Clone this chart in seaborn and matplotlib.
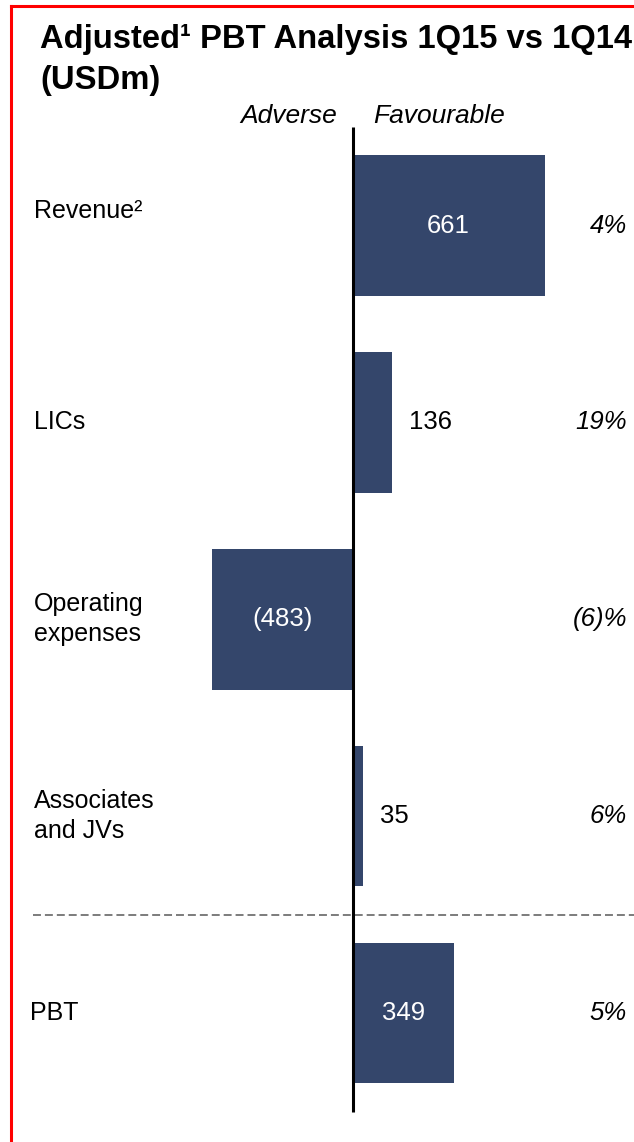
import matplotlib
matplotlib.use("Agg")
import matplotlib.pyplot as plt
from matplotlib.lines import Line2D
import seaborn as sns

# data
categories = ["Revenue²", "LICs", "Operating\nexpenses", "Associates\nand JVs", "PBT"]
values = [661, 136, -483, 35, 349]
pct_change = ["4%", "19%", "(6)%", "6%", "5%"]
title_line1 = "Adjusted¹ PBT Analysis 1Q15 vs 1Q14"
title_line2 = "(USDm)"

W, H = 634, 1142
BAR_COLOR = "#34466b"

# pixel layout of the original slide
ZERO_PX = 352.5          # x of the zero line
PX_PER_USD = 0.2905      # horizontal scale
ROW0_PX = 225.5          # y centre of first bar
ROW_PX = 196.9           # distance between bars


def px_x(px):
    return (px - ZERO_PX) / PX_PER_USD


def px_y(py):
    return (py - ROW0_PX) / ROW_PX


sns.set_style("white")
plt.rcParams["font.family"] = ["Liberation Sans", "DejaVu Sans"]
plt.rcParams["text.color"] = "black"

fig = plt.figure(figsize=(W / 100, H / 100), dpi=100)
ax = fig.add_axes([0, 0, 1, 1])

sns.barplot(x=values, y=categories, orient="h", color=BAR_COLOR, saturation=1,
            width=0.714, edgecolor="none", ax=ax)

ax.set_xlim(px_x(0), px_x(W))
ax.set_ylim(px_y(H), px_y(0))
ax.axis("off")

# zero line and separator before the total
ax.plot([0, 0], [-0.5, 4.5], color="black", lw=2.2, solid_capstyle="butt", zorder=5)
ax.plot([px_x(33), px_x(W + 5)], [3.5, 3.5], color="#595959", lw=1.1,
        ls=(0, (5.2, 2.6)), zorder=1)

for i, (cat, v, pct) in enumerate(zip(categories, values, pct_change)):
    # row label on the left
    lx = px_x(30) if cat == "PBT" else px_x(34)
    dy = -0.075 if i == 0 else 0
    ax.text(lx, i + dy, cat, ha="left", va="center", fontsize=18, linespacing=1.3)

    # value label
    txt = f"({abs(v)})" if v < 0 else f"{v}"
    if abs(v) > 200:
        ax.text(v / 2, i, txt, ha="center", va="center", fontsize=18.5, color="white")
    else:
        ax.text(v + 17 / PX_PER_USD, i, txt, ha="left", va="center", fontsize=18.5,
                color="black")

    # % change on the right
    ax.text(px_x(627), i, pct, ha="right", va="center", fontsize=18.5, style="italic")

ax.text(px_x(337), px_y(123), "Adverse", ha="right", va="baseline", fontsize=19,
        style="italic")
ax.text(px_x(373), px_y(123), "Favourable", ha="left", va="baseline", fontsize=19,
        style="italic")

fig.text(40 / W, 1 - 48 / H, title_line1, ha="left", va="baseline", fontsize=23.6,
         fontweight="bold")
fig.text(40 / W, 1 - 89 / H, title_line2, ha="left", va="baseline", fontsize=23.6,
         fontweight="bold")

# red frame (left and top edges visible)
fig.add_artist(Line2D([11 / W, 11 / W], [0, 1 - 6 / H], transform=fig.transFigure,
                      color="red", lw=2.2, solid_capstyle="projecting"))
fig.add_artist(Line2D([11 / W, 1.01], [1 - 6 / H, 1 - 6 / H], transform=fig.transFigure,
                      color="red", lw=2.2, solid_capstyle="projecting"))

fig.savefig("out.png", dpi=100)
